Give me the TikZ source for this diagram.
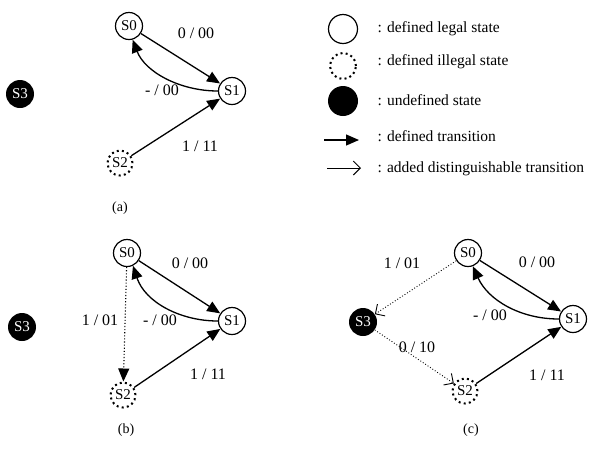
\documentclass[tikz,border=0pt]{standalone}
\usepackage{fontspec}
\setmainfont{Liberation Serif}
\usetikzlibrary{arrows.meta}
\begin{document}
\begin{tikzpicture}[x=1pt,y=-1pt,
  every node/.style={font=\fontsize{16}{18}\selectfont},
  legal/.style={circle,draw,line width=1.2pt,minimum size=27pt,inner sep=0pt,font=\fontsize{15}{17}\selectfont},
  illegal/.style={circle,draw,line width=2pt,dash pattern=on 2pt off 3.2pt,minimum size=25pt,inner sep=0pt,font=\fontsize{15}{17}\selectfont},
  undef/.style={circle,fill=black,minimum size=28pt,inner sep=0pt,text=white,font=\fontsize{15}{17}\selectfont},
  deftr/.style={line width=1.3pt,-{Triangle[length=13pt,width=11pt]}},
  dottr/.style={line width=1.1pt,dotted,-{Triangle[length=13pt,width=11pt]}},
  addtr/.style={line width=0.9pt,dotted,-{Straight Barb[length=7pt,width=14pt]}},
  lbl/.style={inner sep=1pt},
  legtxt/.style={anchor=west,font=\fontsize{15.5}{17}\selectfont},
  captxt/.style={font=\fontsize{14}{16}\selectfont}]
\useasboundingbox (0,0) rectangle (601,448);

% ---------- (a)
\node[legal]   (a0) at (129,26)  {S0};
\node[legal]   (a1) at (232,91)  {S1};
\node[illegal] (a2) at (120,163) {S2};
\node[undef]   (a3) at (20,94)   {S3};
\draw[deftr] (a0) -- (a1);
\draw[deftr] (a1.180) .. controls (180,91) and (145,72) .. (a0.-75);
\draw[deftr] (a2) -- (a1);
\node[lbl] (la1) at (196,33)  {0 / 00};
\node[lbl] (la2) at (162,90)  {- / 00};
\node[lbl] (la3) at (200,146) {1 / 11};
\node[captxt] (ca) at (120,208) {(a)};

% ---------- legend
\node[legal,minimum size=29pt] (g1) at (343,29) {};
\node[illegal,minimum size=26pt] (g2) at (343,66) {};
\node[undef,minimum size=30pt] (g3) at (343,101) {};
\coordinate (g4a) at (324,140);
\coordinate (g4b) at (359,140);
\coordinate (g5a) at (327,168);
\coordinate (g5b) at (361,168);
\draw[deftr] (g4a) -- (g4b);
\draw[line width=1pt,-{Straight Barb[length=7pt,width=14pt]}] (g5a) -- (g5b);
\node[legtxt] (t1) at (374,29)  {: defined legal state};
\node[legtxt] (t2) at (374,62)  {: defined illegal state};
\node[legtxt] (t3) at (374,100) {: undefined state};
\node[legtxt] (t4) at (374,136) {: defined transition};
\node[legtxt] (t5) at (374,169) {: added distinguishable transition};

% ---------- (b)
\node[legal]   (b0) at (127,253) {S0};
\node[legal]   (b1) at (232,321) {S1};
\node[illegal] (b2) at (123,395) {S2};
\node[undef]   (b3) at (22,327)  {S3};
\draw[deftr] (b0) -- (b1);
\draw[deftr] (b1.180) .. controls (180,321) and (145,302) .. (b0.-65);
\draw[deftr] (b2) -- (b1);
\draw[dottr] (b0) -- (b2);
\node[lbl] (lb1) at (190,263) {0 / 00};
\node[lbl] (lb2) at (100,320) {1 / 01};
\node[lbl] (lb3) at (160,320) {- / 00};
\node[lbl] (lb4) at (208,374) {1 / 11};
\node[captxt] (cb) at (126,430) {(b)};

% ---------- (c)
\node[legal]   (c0) at (468,253) {S0};
\node[legal]   (c1) at (573,319) {S1};
\node[illegal] (c2) at (465,391) {S2};
\node[undef]   (c3) at (363,322) {S3};
\draw[deftr] (c0) -- (c1);
\draw[deftr] (c1.180) .. controls (520,319) and (488,300) .. (c0.-70);
\draw[deftr] (c2) -- (c1);
\draw[addtr] (c0) -- (c3);
\draw[addtr] (c3) -- (c2);
\node[lbl] (lc1) at (402,263) {1 / 01};
\node[lbl] (lc2) at (537,262) {0 / 00};
\node[lbl] (lc3) at (490,315) {- / 00};
\node[lbl] (lc4) at (417,347) {0 / 10};
\node[lbl] (lc5) at (547,375) {1 / 11};
\node[captxt] (cc) at (471,430) {(c)};
\end{tikzpicture}
\end{document}
